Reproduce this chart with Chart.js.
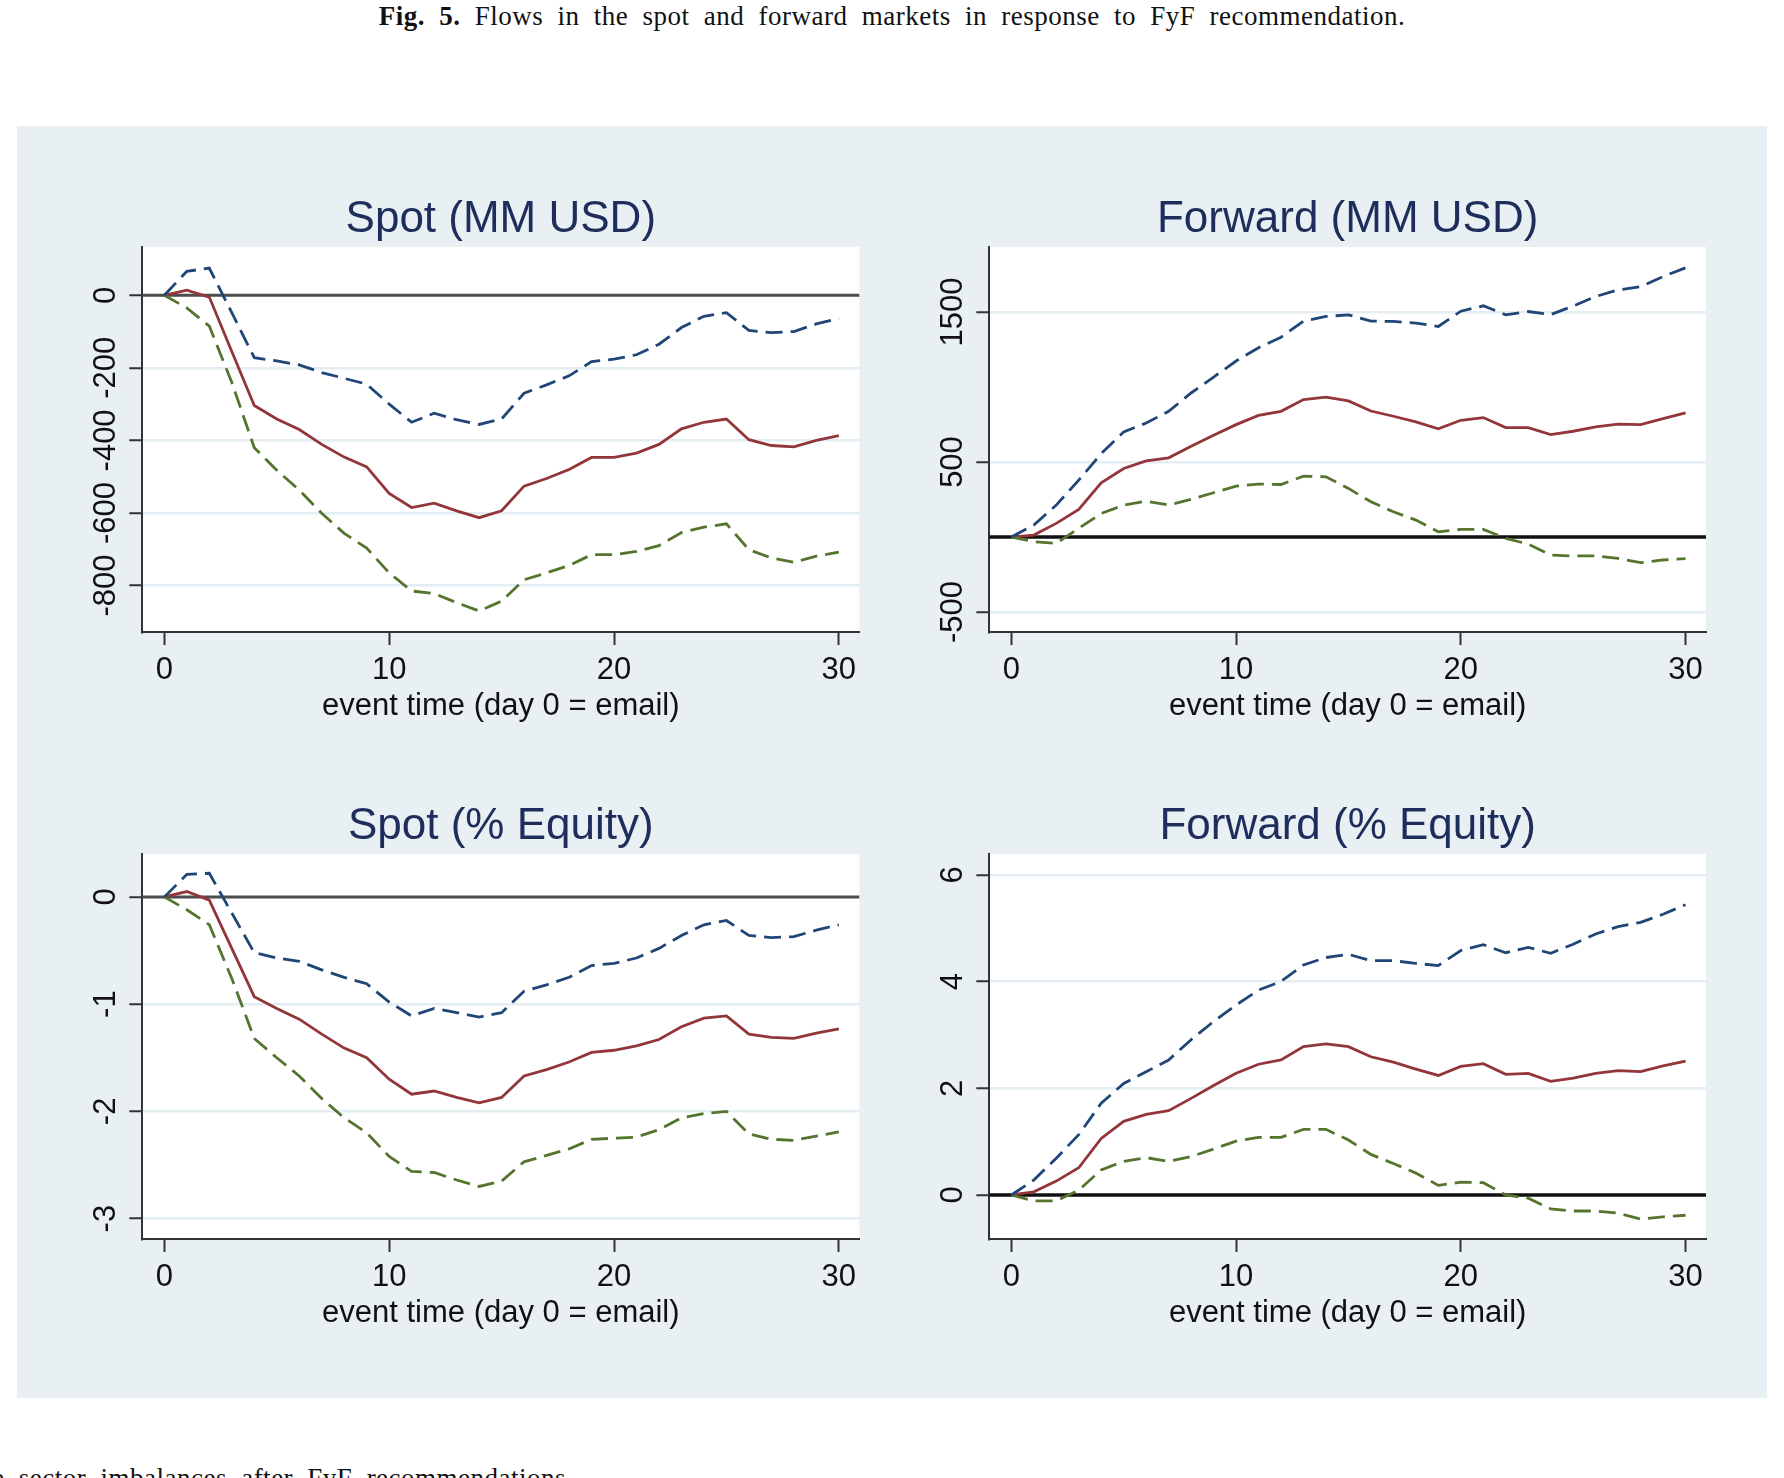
<!DOCTYPE html>
<html lang="en">
<head>
<meta charset="utf-8" />
<title>Fig. 5</title>
<script src="https://cdn.jsdelivr.net/npm/chart.js@4.4.0/dist/chart.umd.min.js"></script>
<style>
    html, body { margin: 0; padding: 0; background: #fff; width: 1784px; height: 1478px; overflow: hidden; }
    .caption { position: absolute; left: 0; top: 0; width: 1784px; text-align: center; font-family: "Liberation Serif", serif; font-size: 27px; line-height: 32px; color: #111; letter-spacing: 0.5px; word-spacing: 7px; }
    .panel { position: absolute; left: 17px; top: 126px; width: 1750px; height: 1272px; background: #e8f0f3; }
    .below { position: absolute; left: -8px; top: 1462px; font-family: "Liberation Serif", serif; font-size: 27px; line-height: 32px; color: #111; letter-spacing: 0.5px; word-spacing: 7px; white-space: nowrap; }
    canvas { position: absolute; }
</style>
</head>
<body>
    <div class="caption"><b>Fig. 5.</b> Flows in the spot and forward markets in response to FyF recommendation.</div>
    <div class="panel"></div>
    <canvas id="spotUsd" width="870" height="634" style="left:17px; top:126px;"></canvas>
    <canvas id="fwdUsd" width="880" height="634" style="left:887px; top:126px;"></canvas>
    <canvas id="spotEq" width="870" height="607" style="left:17px; top:760px;"></canvas>
    <canvas id="fwdEq" width="880" height="607" style="left:887px; top:760px;"></canvas>
    <div class="below">e sector imbalances after FyF recommendations</div>

    <script>
        // event days
        var days = [0, 1, 2, 3, 4, 5, 6, 7, 8, 9, 10, 11, 12, 13, 14, 15, 16, 17, 18, 19, 20, 21, 22, 23, 24, 25, 26, 27, 28, 29, 30];
        var dayTicks = [0, 10, 20, 30];

        // Spot (MM USD)
        var spotUsdMid = [0, 14, -5, -155, -304, -341, -370, -411, -446, -473, -546, -585, -573, -594, -613, -594, -526, -505, -480, -447, -447, -435, -411, -368, -350, -341, -398, -414, -418, -400, -387];
        var spotUsdHigh = [0, 66, 75, -48, -172, -181, -192, -213, -229, -245, -300, -350, -325, -343, -356, -341, -270, -247, -222, -183, -176, -164, -135, -89, -58, -48, -97, -103, -100, -79, -64];
        var spotUsdLow = [0, -35, -85, -240, -420, -482, -537, -601, -656, -697, -765, -815, -822, -847, -870, -843, -784, -765, -745, -715, -715, -706, -690, -654, -639, -630, -701, -724, -736, -719, -708];
        var spotUsdTicks = [-800, -600, -400, -200, 0];

        // Forward (MM USD)
        var fwdUsdMid = [0, 13, 91, 184, 361, 457, 508, 528, 605, 678, 749, 811, 838, 916, 933, 907, 840, 805, 767, 721, 778, 796, 729, 729, 683, 705, 734, 752, 749, 789, 827];
        var fwdUsdHigh = [0, 80, 213, 379, 556, 701, 760, 838, 960, 1066, 1173, 1262, 1332, 1439, 1470, 1481, 1439, 1437, 1426, 1403, 1505, 1541, 1481, 1503, 1483, 1539, 1603, 1647, 1669, 1736, 1794];
        var fwdUsdLow = [0, -31, -42, 58, 157, 213, 239, 213, 251, 295, 339, 353, 350, 406, 401, 324, 235, 168, 113, 35, 51, 51, -9, -47, -120, -126, -126, -142, -171, -153, -144];
        var fwdUsdTicks = [-500, 500, 1500];

        // Spot (% Equity)
        var spotEqMid = [0, 0.05, -0.03, -0.48, -0.93, -1.04, -1.14, -1.28, -1.41, -1.50, -1.70, -1.84, -1.81, -1.87, -1.92, -1.87, -1.67, -1.61, -1.54, -1.45, -1.43, -1.39, -1.33, -1.21, -1.13, -1.11, -1.28, -1.31, -1.32, -1.27, -1.23];
        var spotEqHigh = [0, 0.21, 0.22, -0.15, -0.52, -0.57, -0.60, -0.68, -0.75, -0.81, -0.98, -1.11, -1.04, -1.08, -1.12, -1.08, -0.88, -0.82, -0.75, -0.64, -0.62, -0.57, -0.48, -0.36, -0.26, -0.22, -0.36, -0.38, -0.37, -0.31, -0.26];
        var spotEqLow = [0, -0.12, -0.26, -0.76, -1.32, -1.50, -1.67, -1.88, -2.06, -2.20, -2.42, -2.56, -2.57, -2.64, -2.70, -2.65, -2.47, -2.41, -2.35, -2.26, -2.25, -2.24, -2.17, -2.06, -2.02, -2.00, -2.21, -2.26, -2.27, -2.23, -2.19];
        var spotEqTicks = [-3, -2, -1, 0];

        // Forward (% Equity)
        var fwdEqMid = [0, 0.06, 0.26, 0.51, 1.06, 1.38, 1.51, 1.58, 1.81, 2.05, 2.28, 2.45, 2.53, 2.78, 2.83, 2.78, 2.59, 2.49, 2.36, 2.24, 2.41, 2.46, 2.26, 2.28, 2.13, 2.19, 2.28, 2.33, 2.31, 2.42, 2.51];
        var fwdEqHigh = [0, 0.28, 0.69, 1.13, 1.72, 2.09, 2.31, 2.53, 2.91, 3.25, 3.56, 3.84, 4.00, 4.31, 4.45, 4.51, 4.39, 4.39, 4.34, 4.30, 4.58, 4.69, 4.54, 4.64, 4.53, 4.70, 4.89, 5.03, 5.11, 5.26, 5.44];
        var fwdEqLow = [0, -0.11, -0.11, 0.09, 0.47, 0.63, 0.70, 0.63, 0.72, 0.86, 1.01, 1.08, 1.08, 1.23, 1.23, 1.03, 0.76, 0.59, 0.41, 0.18, 0.24, 0.23, 0.00, -0.06, -0.26, -0.30, -0.30, -0.34, -0.45, -0.41, -0.38];
        var fwdEqTicks = [0, 2, 4, 6];

        var FONT = '"Liberation Sans", Arial, sans-serif';
        var AXIS = '#333333';

        // white plot region, zero line, title and rotated y labels (Stata look)
        var panelDecor = {
            id: 'panelDecor',
            beforeDraw: function (chart) {
                var a = chart.chartArea, ctx = chart.ctx;
                ctx.save();
                ctx.fillStyle = '#ffffff';
                ctx.fillRect(a.left, a.top, a.right - a.left, a.bottom - a.top);
                ctx.restore();
            },
            beforeDatasetsDraw: function (chart, args, opts) {
                var a = chart.chartArea, ctx = chart.ctx;
                var y0 = chart.scales.y.getPixelForValue(0);
                ctx.save();
                ctx.strokeStyle = opts.zeroColor;
                ctx.lineWidth = opts.zeroWidth;
                ctx.beginPath();
                ctx.moveTo(a.left, y0);
                ctx.lineTo(a.right, y0);
                ctx.stroke();
                ctx.restore();
            },
            afterDraw: function (chart, args, opts) {
                var a = chart.chartArea, ctx = chart.ctx;
                var ys = chart.scales.y;
                ctx.save();
                ctx.fillStyle = '#1f2d5c';
                ctx.font = '44px ' + FONT;
                ctx.textAlign = 'center';
                ctx.textBaseline = 'middle';
                ctx.fillText(opts.title, (a.left + a.right) / 2, a.top - 27.5);

                ctx.fillStyle = '#111111';
                ctx.font = '31px ' + FONT;
                ys.ticks.forEach(function (t) {
                    var py = ys.getPixelForValue(t.value);
                    ctx.save();
                    ctx.translate(a.left - 36, py);
                    ctx.rotate(-Math.PI / 2);
                    ctx.fillText(String(t.value), 0, 0);
                    ctx.restore();
                });
                ctx.restore();
            }
        };

        function pts(vals) {
            return vals.map(function (v, i) { return { x: days[i], y: v }; });
        }

        function makePanel(id, title, mid, high, low, yTicks, yMin, yMax, cfg) {
            var line = function (vals, color, dashed) {
                return {
                    data: pts(vals),
                    borderColor: color,
                    borderWidth: 2.8,
                    borderDash: dashed ? [17, 8] : [],
                    pointRadius: 0,
                    tension: 0,
                    fill: false
                };
            };
            return new Chart(document.getElementById(id).getContext('2d'), {
                type: 'line',
                data: {
                    datasets: [
                        line(high, '#1f4676', true),
                        line(low, '#55752f', true),
                        line(mid, '#93363c', false)
                    ]
                },
                options: {
                    responsive: false,
                    animation: false,
                    events: [],
                    layout: { padding: { top: cfg.padTop, right: cfg.padRight, left: 0, bottom: 0 } },
                    plugins: {
                        legend: { display: false },
                        tooltip: { enabled: false },
                        panelDecor: { title: title, zeroColor: cfg.zeroColor, zeroWidth: cfg.zeroWidth }
                    },
                    scales: {
                        x: {
                            type: 'linear',
                            min: -0.98,
                            max: 30.91,
                            afterBuildTicks: function (s) { s.ticks = dayTicks.map(function (v) { return { value: v }; }); },
                            afterFit: function (s) { s.height = 128; },
                            ticks: {
                                color: '#111', padding: 6.5, maxRotation: 0, autoSkip: false,
                                font: { family: FONT, size: 31 },
                                callback: function (v) { return String(v); }
                            },
                            grid: { drawOnChartArea: false, drawTicks: true, tickLength: 13, tickColor: AXIS, tickWidth: 2 },
                            border: { display: true, color: AXIS, width: 2 },
                            title: {
                                display: true, text: 'event time (day 0 = email)', color: '#111',
                                font: { family: FONT, size: 31 }, padding: { top: 0, bottom: 35 }
                            }
                        },
                        y: {
                            type: 'linear',
                            min: yMin,
                            max: yMax,
                            afterBuildTicks: function (s) { s.ticks = yTicks.map(function (v) { return { value: v }; }); },
                            afterFit: function (s) { s.width = cfg.yWidth; },
                            ticks: { display: false },
                            grid: { color: '#e4edf1', lineWidth: 2.5, drawTicks: true, tickLength: 13, tickColor: AXIS, tickWidth: 2 },
                            border: { display: true, color: AXIS, width: 2 }
                        }
                    }
                },
                plugins: [panelDecor]
            });
        }

        makePanel('spotUsd', 'Spot (MM USD)', spotUsdMid, spotUsdHigh, spotUsdLow, spotUsdTicks, -928, 133,
            { padTop: 121, padRight: 27.7, yWidth: 125.3, zeroColor: '#4d4d4d', zeroWidth: 3 });
        makePanel('fwdUsd', 'Forward (MM USD)', fwdUsdMid, fwdUsdHigh, fwdUsdLow, fwdUsdTicks, -633, 1933,
            { padTop: 121, padRight: 61, yWidth: 102.3, zeroColor: '#111111', zeroWidth: 3.5 });
        makePanel('spotEq', 'Spot (% Equity)', spotEqMid, spotEqHigh, spotEqLow, spotEqTicks, -3.19, 0.40,
            { padTop: 94, padRight: 27.7, yWidth: 125.3, zeroColor: '#4d4d4d', zeroWidth: 3 });
        makePanel('fwdEq', 'Forward (% Equity)', fwdEqMid, fwdEqHigh, fwdEqLow, fwdEqTicks, -0.825, 6.39,
            { padTop: 94, padRight: 61, yWidth: 102.3, zeroColor: '#111111', zeroWidth: 3.5 });
    </script>
</body>
</html>
